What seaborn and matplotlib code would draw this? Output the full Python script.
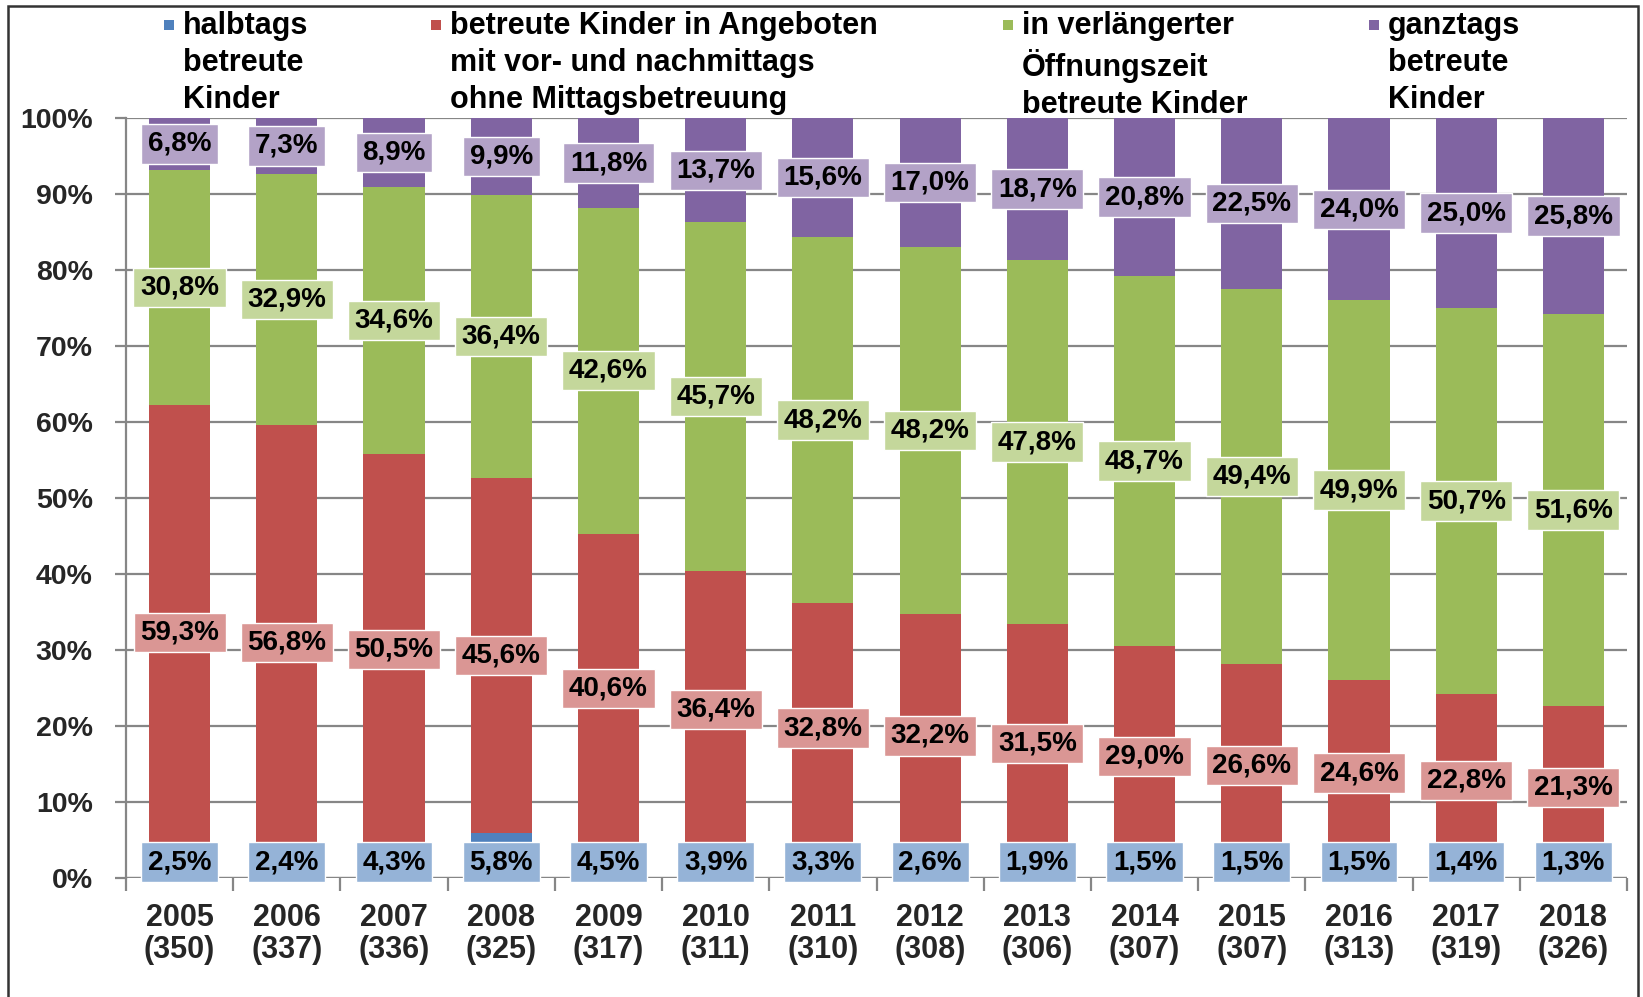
import numpy as np
import pandas as pd
import matplotlib
matplotlib.use("Agg")
import matplotlib.pyplot as plt
from matplotlib.patches import Rectangle
import seaborn as sns

years = ["2005", "2006", "2007", "2008", "2009", "2010", "2011",
         "2012", "2013", "2014", "2015", "2016", "2017", "2018"]
counts = [350, 337, 336, 325, 317, 311, 310, 308, 306, 307, 307, 313, 319, 326]
halbtags = [2.5, 2.4, 4.3, 5.8, 4.5, 3.9, 3.3, 2.6, 1.9, 1.5, 1.5, 1.5, 1.4, 1.3]
vor_nach = [59.3, 56.8, 50.5, 45.6, 40.6, 36.4, 32.8, 32.2, 31.5, 29.0, 26.6, 24.6, 22.8, 21.3]
verlaengert = [30.8, 32.9, 34.6, 36.4, 42.6, 45.7, 48.2, 48.2, 47.8, 48.7, 49.4, 49.9, 50.7, 51.6]
ganztags = [6.8, 7.3, 8.9, 9.9, 11.8, 13.7, 15.6, 17.0, 18.7, 20.8, 22.5, 24.0, 25.0, 25.8]

legend_labels = [
    "halbtags\nbetreute\nKinder",
    "betreute Kinder in Angeboten\nmit vor- und nachmittags\nohne Mittagsbetreuung",
    "in verlängerter\nÖffnungszeit\nbetreute Kinder",
    "ganztags\nbetreute\nKinder",
]
bar_colors = ["#4F81BD", "#C0504D", "#9BBB59", "#8064A2"]
box_colors = ["#95B3D7", "#DA9694", "#C4D79B", "#B3A2C7"]

sns.set_theme(style="white")
plt.rcParams['font.family'] = ['Liberation Sans', 'DejaVu Sans']

series = np.array([halbtags, vor_nach, verlaengert, ganztags], dtype=float)
totals = series.sum(axis=0)
shares = series / totals * 100.0          # 100 % stacked
cum = np.cumsum(shares, axis=0)
xlabels = [f"{y}\n({c})" for y, c in zip(years, counts)]

df = pd.DataFrame({"cat": xlabels})
for k in range(4):
    df[f"top{k}"] = cum[k]

fig = plt.figure(figsize=(16.43, 9.97), dpi=100)
ax = fig.add_axes([126 / 1643, 1 - 878 / 997, (1627 - 126) / 1643, (878 - 118) / 997])

# draw cumulative tops back to front
for k in [3, 2, 1, 0]:
    sns.barplot(data=df, x="cat", y=f"top{k}", color=bar_colors[k], width=0.57,
                saturation=1, errorbar=None, ax=ax, edgecolor="none", zorder=2)

ax.set_ylim(0, 100)
ax.set_xlim(-0.5, len(years) - 0.5)
ax.set_xlabel("")
ax.set_ylabel("")
ax.set_axisbelow(True)
ax.yaxis.grid(True, color="#868686", lw=1.6, zorder=0)
ax.xaxis.grid(False)
for s in ["top", "right", "bottom"]:
    ax.spines[s].set_visible(False)
ax.spines["left"].set_color("#868686")
ax.spines["left"].set_linewidth(1.6)
ax.axhline(0, color="#868686", lw=1.6, zorder=1)

ax.set_yticks(np.arange(0, 101, 10))
ax.set_yticklabels([f"{v}%" for v in range(0, 101, 10)])
ax.tick_params(axis="y", which="major", direction="out", length=8, width=1.6,
               color="#868686", pad=16, left=True)
for t in ax.get_yticklabels():
    t.set_fontweight("bold")
    t.set_fontsize(20.5)

ax.set_xticks(range(len(years)))
ax.set_xticklabels(xlabels)
ax.set_xticks(np.arange(-0.5, len(years), 1.0), minor=True)
ax.tick_params(axis="x", which="major", length=0, pad=18)
ax.tick_params(axis="x", which="minor", direction="out", length=9, width=1.6,
               color="#868686", bottom=True)
for t in ax.get_xticklabels():
    t.set_fontweight("bold")
    t.set_fontsize(22)
    t.set_linespacing(1.1)

# value labels
for k in range(4):
    for i in range(len(years)):
        if k == 0:
            yc = 2.1
        else:
            yc = cum[k - 1][i] + shares[k][i] / 2
        txt = f"{series[k][i]:.1f}".replace(".", ",") + "%"
        ax.text(i, yc, txt, ha="center", va="center", fontsize=20, fontweight="bold",
                color="black", zorder=5,
                bbox=dict(boxstyle="square,pad=0.24", fc=box_colors[k], ec="white", lw=1))

# legend (manual, four columns)
leg_x = [183, 450, 1022, 1388]
for k in range(4):
    fig.text(leg_x[k] / 1643, 1 - 11 / 997, legend_labels[k], ha="left", va="top",
             fontsize=22, fontweight="bold", linespacing=1.3, color="black")
    fig.add_artist(Rectangle(((leg_x[k] - 19) / 1643, 1 - 30 / 997), 10 / 1643, 10 / 997,
                             transform=fig.transFigure, fc=bar_colors[k], ec="none"))

# outer frame
fig.add_artist(Rectangle((8 / 1643, -0.02), (1638 - 8) / 1643, 1.02 - 6 / 997,
                         transform=fig.transFigure, fill=False, ec="#333333", lw=1.8))

fig.savefig("out.png", dpi=100)
